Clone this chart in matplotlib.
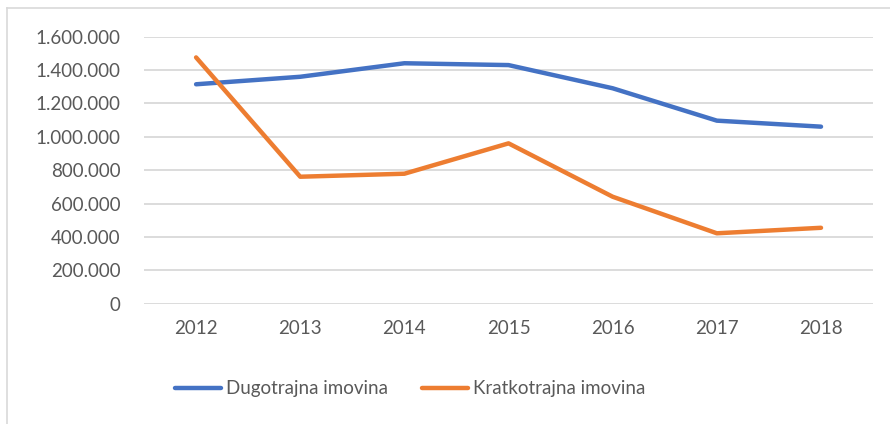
import matplotlib
matplotlib.use("Agg")
import matplotlib.pyplot as plt
from matplotlib.lines import Line2D
from matplotlib.ticker import FuncFormatter

plt.rcParams['font.family'] = ['Lato', 'DejaVu Sans']

years = ['2012', '2013', '2014', '2015', '2016', '2017', '2018']
dugotrajna = [1315000, 1360000, 1441000, 1430000, 1291000, 1097000, 1061000]
kratkotrajna = [1476000, 761000, 779000, 961000, 641000, 422000, 455000]
y_ticks = [0, 200000, 400000, 600000, 800000, 1000000, 1200000, 1400000, 1600000]

TXT = '#595959'
BLUE = '#4472C4'
ORANGE = '#ED7D31'

fig = plt.figure(figsize=(8.9, 4.24), dpi=100)
ax = fig.add_axes([0.1618, 0.2837, 0.8192, 0.6297])

x = range(len(years))
ax.plot(x, dugotrajna, color=BLUE, lw=3.2, solid_capstyle='round', label='Dugotrajna imovina')
ax.plot(x, kratkotrajna, color=ORANGE, lw=3.2, solid_capstyle='round', label='Kratkotrajna imovina')

ax.set_xlim(-0.5, len(years) - 0.5)
ax.set_ylim(0, 1600000)
ax.set_yticks(y_ticks)
ax.yaxis.set_major_formatter(FuncFormatter(lambda v, p: f'{int(v):,}'.replace(',', '.')))
ax.set_xticks(list(x))
ax.set_xticklabels(years)
ax.grid(axis='y', color='#d9d9d9', lw=1.3)
ax.set_axisbelow(True)
for s in ax.spines.values():
    s.set_visible(False)
ax.tick_params(length=0, colors=TXT, labelsize=13.5)
ax.tick_params(axis='y', pad=17)
ax.tick_params(axis='x', pad=12)

leg = fig.legend(loc='center', bbox_to_anchor=(0.461, 0.083), ncol=2, frameon=False,
                 fontsize=13.5, handlelength=2.45, handletextpad=0.27, columnspacing=1.85)
for t in leg.get_texts():
    t.set_color(TXT)

# chart border (top and left visible)
fig.add_artist(Line2D([7 / 890, 1], [1 - 8 / 424, 1 - 8 / 424], color='#d9d9d9', lw=1.2))
fig.add_artist(Line2D([7 / 890, 7 / 890], [0, 1 - 8 / 424], color='#d9d9d9', lw=1.2))

fig.savefig('out.png', dpi=100)
